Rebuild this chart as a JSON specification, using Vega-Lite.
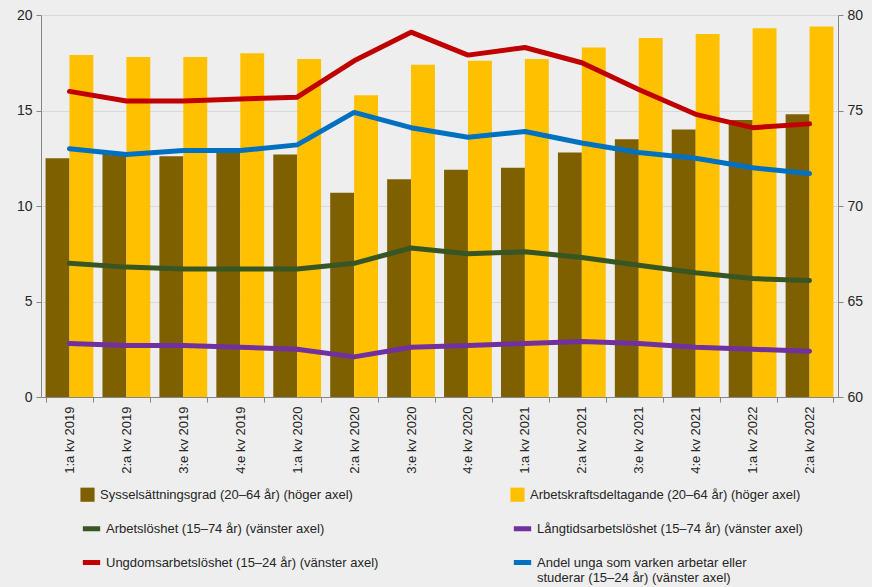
{
  "$schema": "https://vega.github.io/schema/vega-lite/v6.json",
  "width": 797,
  "height": 382,
  "autosize": {"type": "none"},
  "padding": {"left": 41, "top": 15, "right": 34, "bottom": 190},
  "background": "#EEEEEE",
  "config": {
    "view": {"stroke": null},
    "font": "Liberation Sans",
    "axis": {"labelFont": "Liberation Sans", "labelColor": "#262626", "labelFontSize": 14, "domainColor": "#868686", "tickColor": "#868686", "gridColor": "#D9D9D9", "titleColor": "#262626"},
    "legend": {"labelFont": "Liberation Sans", "labelFontSize": 13, "labelColor": "#262626"}
  },
  "datasets": {
    "bars": [
      {"q": "1:a kv 2019", "s": "Sysselsättningsgrad (20–64 år) (höger axel)", "v": 72.5},
      {"q": "2:a kv 2019", "s": "Sysselsättningsgrad (20–64 år) (höger axel)", "v": 72.8},
      {"q": "3:e kv 2019", "s": "Sysselsättningsgrad (20–64 år) (höger axel)", "v": 72.6},
      {"q": "4:e kv 2019", "s": "Sysselsättningsgrad (20–64 år) (höger axel)", "v": 72.9},
      {"q": "1:a kv 2020", "s": "Sysselsättningsgrad (20–64 år) (höger axel)", "v": 72.7},
      {"q": "2:a kv 2020", "s": "Sysselsättningsgrad (20–64 år) (höger axel)", "v": 70.7},
      {"q": "3:e kv 2020", "s": "Sysselsättningsgrad (20–64 år) (höger axel)", "v": 71.4},
      {"q": "4:e kv 2020", "s": "Sysselsättningsgrad (20–64 år) (höger axel)", "v": 71.9},
      {"q": "1:a kv 2021", "s": "Sysselsättningsgrad (20–64 år) (höger axel)", "v": 72.0},
      {"q": "2:a kv 2021", "s": "Sysselsättningsgrad (20–64 år) (höger axel)", "v": 72.8},
      {"q": "3:e kv 2021", "s": "Sysselsättningsgrad (20–64 år) (höger axel)", "v": 73.5},
      {"q": "4:e kv 2021", "s": "Sysselsättningsgrad (20–64 år) (höger axel)", "v": 74.0},
      {"q": "1:a kv 2022", "s": "Sysselsättningsgrad (20–64 år) (höger axel)", "v": 74.5},
      {"q": "2:a kv 2022", "s": "Sysselsättningsgrad (20–64 år) (höger axel)", "v": 74.8},
      {"q": "1:a kv 2019", "s": "Arbetskraftsdeltagande (20–64 år) (höger axel)", "v": 77.9},
      {"q": "2:a kv 2019", "s": "Arbetskraftsdeltagande (20–64 år) (höger axel)", "v": 77.8},
      {"q": "3:e kv 2019", "s": "Arbetskraftsdeltagande (20–64 år) (höger axel)", "v": 77.8},
      {"q": "4:e kv 2019", "s": "Arbetskraftsdeltagande (20–64 år) (höger axel)", "v": 78.0},
      {"q": "1:a kv 2020", "s": "Arbetskraftsdeltagande (20–64 år) (höger axel)", "v": 77.7},
      {"q": "2:a kv 2020", "s": "Arbetskraftsdeltagande (20–64 år) (höger axel)", "v": 75.8},
      {"q": "3:e kv 2020", "s": "Arbetskraftsdeltagande (20–64 år) (höger axel)", "v": 77.4},
      {"q": "4:e kv 2020", "s": "Arbetskraftsdeltagande (20–64 år) (höger axel)", "v": 77.6},
      {"q": "1:a kv 2021", "s": "Arbetskraftsdeltagande (20–64 år) (höger axel)", "v": 77.7},
      {"q": "2:a kv 2021", "s": "Arbetskraftsdeltagande (20–64 år) (höger axel)", "v": 78.3},
      {"q": "3:e kv 2021", "s": "Arbetskraftsdeltagande (20–64 år) (höger axel)", "v": 78.8},
      {"q": "4:e kv 2021", "s": "Arbetskraftsdeltagande (20–64 år) (höger axel)", "v": 79.0},
      {"q": "1:a kv 2022", "s": "Arbetskraftsdeltagande (20–64 år) (höger axel)", "v": 79.3},
      {"q": "2:a kv 2022", "s": "Arbetskraftsdeltagande (20–64 år) (höger axel)", "v": 79.4}
    ],
    "lines": [
      {"q": "1:a kv 2019", "s": "Arbetslöshet (15–74 år) (vänster axel)", "v": 7.0},
      {"q": "2:a kv 2019", "s": "Arbetslöshet (15–74 år) (vänster axel)", "v": 6.8},
      {"q": "3:e kv 2019", "s": "Arbetslöshet (15–74 år) (vänster axel)", "v": 6.7},
      {"q": "4:e kv 2019", "s": "Arbetslöshet (15–74 år) (vänster axel)", "v": 6.7},
      {"q": "1:a kv 2020", "s": "Arbetslöshet (15–74 år) (vänster axel)", "v": 6.7},
      {"q": "2:a kv 2020", "s": "Arbetslöshet (15–74 år) (vänster axel)", "v": 7.0},
      {"q": "3:e kv 2020", "s": "Arbetslöshet (15–74 år) (vänster axel)", "v": 7.8},
      {"q": "4:e kv 2020", "s": "Arbetslöshet (15–74 år) (vänster axel)", "v": 7.5},
      {"q": "1:a kv 2021", "s": "Arbetslöshet (15–74 år) (vänster axel)", "v": 7.6},
      {"q": "2:a kv 2021", "s": "Arbetslöshet (15–74 år) (vänster axel)", "v": 7.3},
      {"q": "3:e kv 2021", "s": "Arbetslöshet (15–74 år) (vänster axel)", "v": 6.9},
      {"q": "4:e kv 2021", "s": "Arbetslöshet (15–74 år) (vänster axel)", "v": 6.5},
      {"q": "1:a kv 2022", "s": "Arbetslöshet (15–74 år) (vänster axel)", "v": 6.2},
      {"q": "2:a kv 2022", "s": "Arbetslöshet (15–74 år) (vänster axel)", "v": 6.1},
      {"q": "1:a kv 2019", "s": "Långtidsarbetslöshet (15–74 år) (vänster axel)", "v": 2.8},
      {"q": "2:a kv 2019", "s": "Långtidsarbetslöshet (15–74 år) (vänster axel)", "v": 2.7},
      {"q": "3:e kv 2019", "s": "Långtidsarbetslöshet (15–74 år) (vänster axel)", "v": 2.7},
      {"q": "4:e kv 2019", "s": "Långtidsarbetslöshet (15–74 år) (vänster axel)", "v": 2.6},
      {"q": "1:a kv 2020", "s": "Långtidsarbetslöshet (15–74 år) (vänster axel)", "v": 2.5},
      {"q": "2:a kv 2020", "s": "Långtidsarbetslöshet (15–74 år) (vänster axel)", "v": 2.1},
      {"q": "3:e kv 2020", "s": "Långtidsarbetslöshet (15–74 år) (vänster axel)", "v": 2.6},
      {"q": "4:e kv 2020", "s": "Långtidsarbetslöshet (15–74 år) (vänster axel)", "v": 2.7},
      {"q": "1:a kv 2021", "s": "Långtidsarbetslöshet (15–74 år) (vänster axel)", "v": 2.8},
      {"q": "2:a kv 2021", "s": "Långtidsarbetslöshet (15–74 år) (vänster axel)", "v": 2.9},
      {"q": "3:e kv 2021", "s": "Långtidsarbetslöshet (15–74 år) (vänster axel)", "v": 2.8},
      {"q": "4:e kv 2021", "s": "Långtidsarbetslöshet (15–74 år) (vänster axel)", "v": 2.6},
      {"q": "1:a kv 2022", "s": "Långtidsarbetslöshet (15–74 år) (vänster axel)", "v": 2.5},
      {"q": "2:a kv 2022", "s": "Långtidsarbetslöshet (15–74 år) (vänster axel)", "v": 2.4},
      {"q": "1:a kv 2019", "s": "Ungdomsarbetslöshet (15–24 år) (vänster axel)", "v": 16.0},
      {"q": "2:a kv 2019", "s": "Ungdomsarbetslöshet (15–24 år) (vänster axel)", "v": 15.5},
      {"q": "3:e kv 2019", "s": "Ungdomsarbetslöshet (15–24 år) (vänster axel)", "v": 15.5},
      {"q": "4:e kv 2019", "s": "Ungdomsarbetslöshet (15–24 år) (vänster axel)", "v": 15.6},
      {"q": "1:a kv 2020", "s": "Ungdomsarbetslöshet (15–24 år) (vänster axel)", "v": 15.7},
      {"q": "2:a kv 2020", "s": "Ungdomsarbetslöshet (15–24 år) (vänster axel)", "v": 17.6},
      {"q": "3:e kv 2020", "s": "Ungdomsarbetslöshet (15–24 år) (vänster axel)", "v": 19.1},
      {"q": "4:e kv 2020", "s": "Ungdomsarbetslöshet (15–24 år) (vänster axel)", "v": 17.9},
      {"q": "1:a kv 2021", "s": "Ungdomsarbetslöshet (15–24 år) (vänster axel)", "v": 18.3},
      {"q": "2:a kv 2021", "s": "Ungdomsarbetslöshet (15–24 år) (vänster axel)", "v": 17.5},
      {"q": "3:e kv 2021", "s": "Ungdomsarbetslöshet (15–24 år) (vänster axel)", "v": 16.1},
      {"q": "4:e kv 2021", "s": "Ungdomsarbetslöshet (15–24 år) (vänster axel)", "v": 14.8},
      {"q": "1:a kv 2022", "s": "Ungdomsarbetslöshet (15–24 år) (vänster axel)", "v": 14.1},
      {"q": "2:a kv 2022", "s": "Ungdomsarbetslöshet (15–24 år) (vänster axel)", "v": 14.3},
      {"q": "1:a kv 2019", "s": "Andel unga som varken arbetar eller studerar (15–24 år) (vänster axel)", "v": 13.0},
      {"q": "2:a kv 2019", "s": "Andel unga som varken arbetar eller studerar (15–24 år) (vänster axel)", "v": 12.7},
      {"q": "3:e kv 2019", "s": "Andel unga som varken arbetar eller studerar (15–24 år) (vänster axel)", "v": 12.9},
      {"q": "4:e kv 2019", "s": "Andel unga som varken arbetar eller studerar (15–24 år) (vänster axel)", "v": 12.9},
      {"q": "1:a kv 2020", "s": "Andel unga som varken arbetar eller studerar (15–24 år) (vänster axel)", "v": 13.2},
      {"q": "2:a kv 2020", "s": "Andel unga som varken arbetar eller studerar (15–24 år) (vänster axel)", "v": 14.9},
      {"q": "3:e kv 2020", "s": "Andel unga som varken arbetar eller studerar (15–24 år) (vänster axel)", "v": 14.1},
      {"q": "4:e kv 2020", "s": "Andel unga som varken arbetar eller studerar (15–24 år) (vänster axel)", "v": 13.6},
      {"q": "1:a kv 2021", "s": "Andel unga som varken arbetar eller studerar (15–24 år) (vänster axel)", "v": 13.9},
      {"q": "2:a kv 2021", "s": "Andel unga som varken arbetar eller studerar (15–24 år) (vänster axel)", "v": 13.3},
      {"q": "3:e kv 2021", "s": "Andel unga som varken arbetar eller studerar (15–24 år) (vänster axel)", "v": 12.8},
      {"q": "4:e kv 2021", "s": "Andel unga som varken arbetar eller studerar (15–24 år) (vänster axel)", "v": 12.5},
      {"q": "1:a kv 2022", "s": "Andel unga som varken arbetar eller studerar (15–24 år) (vänster axel)", "v": 12.0},
      {"q": "2:a kv 2022", "s": "Andel unga som varken arbetar eller studerar (15–24 år) (vänster axel)", "v": 11.7}
    ]
  },
  "layer": [
    {
      "data": {"name": "lines"},
      "mark": {"type": "rule", "opacity": 0},
      "encoding": {
        "y": {"datum": 0, "type": "quantitative", "scale": {"domain": [0, 20]},
          "axis": {"orient": "left", "title": null, "values": [0, 5, 10, 15, 20], "grid": true, "tickSize": 5, "labelPadding": 4, "domain": true}}
      }
    },
    {
      "data": {"name": "bars"},
      "mark": {"type": "bar"},
      "encoding": {
        "x": {"field": "q", "type": "nominal", "sort": null, "scale": {"paddingInner": 0.16, "paddingOuter": 0.08},
          "axis": {"title": null, "labelAngle": 270, "labelFontSize": 13, "tickBand": "extent", "tickSize": 5, "labelPadding": 4, "domainColor": "#868686"}},
        "xOffset": {"field": "s", "type": "nominal", "sort": null, "scale": {"paddingInner": 0, "paddingOuter": 0}},
        "y": {"field": "v", "type": "quantitative", "scale": {"domain": [60, 80], "zero": false},
          "axis": {"orient": "right", "title": null, "values": [60, 65, 70, 75, 80], "grid": false, "tickSize": 5, "labelPadding": 4}},
        "y2": {"datum": 60},
        "color": {"field": "s", "type": "nominal", "sort": null,
          "scale": {"domain": ["Sysselsättningsgrad (20–64 år) (höger axel)", "Arbetskraftsdeltagande (20–64 år) (höger axel)"], "range": ["#7F6000", "#FFC000"]},
          "legend": {"orient": "none", "legendX": 39, "legendY": 472, "columns": 2, "direction": "horizontal", "columnPadding": 157, "title": null, "symbolType": "square", "symbolSize": 200, "symbolStrokeWidth": 0, "labelOffset": 5, "labelLimit": 400}}
      }
    },
    {
      "data": {"name": "lines"},
      "mark": {"type": "line", "strokeWidth": 5, "strokeCap": "round", "strokeJoin": "round"},
      "encoding": {
        "x": {"field": "q", "type": "nominal", "sort": null},
        "y": {"field": "v", "type": "quantitative", "scale": {"domain": [0, 20]}, "axis": null},
        "color": {"field": "s", "type": "nominal",
          "scale": {"domain": ["Arbetslöshet (15–74 år) (vänster axel)", "Långtidsarbetslöshet (15–74 år) (vänster axel)", "Ungdomsarbetslöshet (15–24 år) (vänster axel)", "Andel unga som varken arbetar eller studerar (15–24 år) (vänster axel)"], "range": ["#375623", "#7030A0", "#C00000", "#0070C0"]},
          "legend": {"orient": "none", "legendX": 39, "legendY": 502, "columns": 2, "direction": "horizontal", "columnPadding": 124, "rowPadding": 12, "title": null, "symbolType": "stroke", "symbolStrokeWidth": 5, "symbolSize": 300, "labelOffset": 3, "labelLimit": 400,
            "labelExpr": "indexof(datum.label, 'Andel') == 0 ? ['Andel unga som varken arbetar eller', 'studerar (15–24 år) (vänster axel)'] : datum.label"}}
      }
    }
  ],
  "resolve": {"scale": {"y": "independent", "color": "independent"}, "axis": {"y": "independent"}}
}
